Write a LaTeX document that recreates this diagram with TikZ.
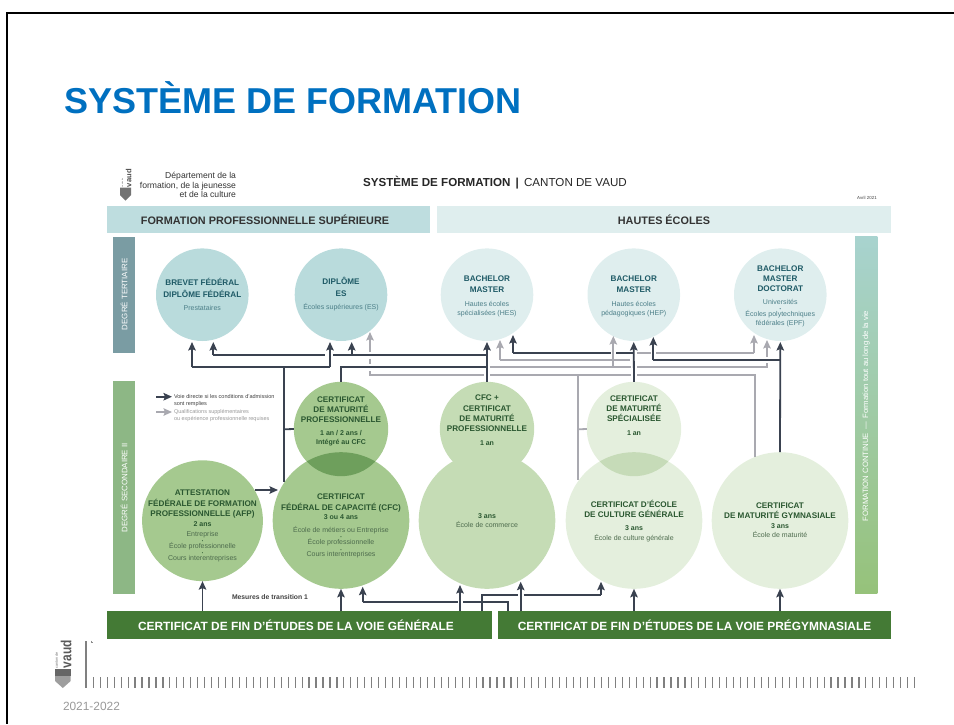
\documentclass[tikz,border=0pt]{standalone}
\usepackage{fontspec}
\setmainfont{Liberation Sans}
\usetikzlibrary{arrows.meta,calc}
\definecolor{cblue}{HTML}{0070C0}
\definecolor{tealA}{HTML}{B9DBDC}
\definecolor{tealB}{HTML}{DFEEEE}
\definecolor{hdA}{HTML}{BEDDDF}
\definecolor{grA}{HTML}{A5C98F}
\definecolor{grAo}{HTML}{6E9F5C}
\definecolor{grB}{HTML}{C5DCB5}
\definecolor{grC}{HTML}{E4EFDD}
\definecolor{grCo}{HTML}{C6DBB8}
\definecolor{barG}{HTML}{447A35}
\definecolor{sideT}{HTML}{7A9CA3}
\definecolor{sideS}{HTML}{8DB785}
\definecolor{fcT}{HTML}{A8D3CF}
\definecolor{fcB}{HTML}{96C27A}
\definecolor{dkl}{HTML}{3A4250}
\definecolor{gyl}{HTML}{A9A9B0}
\definecolor{tHd}{HTML}{1E5A66}
\definecolor{tSm}{HTML}{4C7F88}
\definecolor{sHd}{HTML}{2A5730}
\definecolor{sSm}{HTML}{4D6B4D}
\newcommand\hT[1]{{\fontsize{8.15}{9}\selectfont\bfseries\color{tHd}#1}}
\newcommand\sT[1]{{\fontsize{7}{9}\selectfont\color{tSm}#1}}
\newcommand\hS[1]{{\fontsize{8.15}{9}\selectfont\bfseries\color{sHd}#1}}
\newcommand\yS[1]{{\fontsize{7}{9}\selectfont\bfseries\color{sHd}#1}}
\newcommand\sS[1]{{\fontsize{7}{9}\selectfont\color{sSm}#1}}
\newcommand\dotT{{\fontsize{4}{9}\selectfont\color{tHd}•}}
\newcommand\dotS{{\fontsize{4}{9}\selectfont\color{sHd}•}}
\tikzset{
  disc/.style={circle,inner sep=0pt,outer sep=0pt},
  band/.style={rectangle,inner sep=0pt,outer sep=0pt},
  blk/.style={align=center,inner sep=0pt,outer sep=0pt,font=\fontsize{7}{9}\selectfont},
  dk/.style={draw=dkl,line width=1.8pt},
  gy/.style={draw=gyl,line width=1.8pt},
  dka/.style={dk,-{Stealth[length=8.5pt,width=7.5pt,inset=1.5pt]}},
  gya/.style={gy,-{Stealth[length=8.5pt,width=7.5pt,inset=1.5pt]}},
  lbl/.style={inner sep=0pt,outer sep=0pt}
}
\begin{document}
\begin{tikzpicture}[x=1pt,y=-1pt]
\useasboundingbox (0,0) rectangle (954,724);
% frame
\fill[black] (5.5,12) rectangle (954,14);
\fill[black] (5.5,12) rectangle (8,724);
\node[lbl,anchor=base west,text=cblue,font=\fontsize{36}{40}\selectfont\bfseries] (title) at (64,113) {SYSTÈME DE FORMATION};
% doc head
\node[lbl,anchor=east,align=right,font=\fontsize{8.6}{9.5}\selectfont,text=black!80] (dept) at (236,185) {Département de la\\formation, de la jeunesse\\et de la culture};
\node[lbl,font=\fontsize{11.6}{13}\selectfont,text=black!85] (doct) at (495,183) {{\bfseries SYSTÈME DE FORMATION \,|\,} CANTON DE VAUD};
\node[lbl,anchor=east,font=\fontsize{4.4}{5}\selectfont,text=black!75] (avril) at (876.7,198.3) {Avril 2021};
% bands
\node[band,fill=hdA,minimum width=323pt,minimum height=27.5pt,font=\fontsize{10.85}{12}\selectfont\bfseries,text=black!80] (hfp) at (268.5,219.7) {\hspace*{-7pt}FORMATION PROFESSIONNELLE SUPÉRIEURE};
\node[band,fill=tealB,minimum width=454pt,minimum height=27.5pt,font=\fontsize{10.85}{12}\selectfont\bfseries,text=black!80] (hhe) at (664,219.7) {HAUTES ÉCOLES};
\node[band,fill=sideT,minimum width=22pt,minimum height=116pt] (sdt) at (124,294.7) {};
\node[band,fill=sideS,minimum width=22pt,minimum height=213pt] (sds) at (124,487.5) {};
\node[band,shade,top color=fcT,bottom color=fcB,minimum width=22.3pt,minimum height=357.3pt] (sfc) at (866.2,415.3) {};
\node[lbl,rotate=90,text=white,font=\fontsize{7.9}{9}\selectfont] (tdt) at (124,294.3) {DEGRÉ TERTIAIRE};
\node[lbl,rotate=90,text=white,font=\fontsize{7.9}{9}\selectfont] (tds) at (124,487.7) {DEGRÉ SECONDAIRE II};
\node[lbl,rotate=90,text=white,font=\fontsize{7.7}{9}\selectfont] (tfc) at (866.2,416) {FORMATION CONTINUE \,—\, Formation tout au long de la vie};
\node[band,fill=barG,minimum width=385pt,minimum height=27.7pt,text=white,font=\fontsize{11.9}{13}\selectfont\bfseries] (bgen) at (299.5,624.9) {\hspace*{-7pt}CERTIFICAT DE FIN D’ÉTUDES DE LA VOIE GÉNÉRALE};
\node[band,fill=barG,minimum width=393pt,minimum height=27.7pt,text=white,font=\fontsize{11.9}{13}\selectfont\bfseries] (bpre) at (694.5,624.9) {CERTIFICAT DE FIN D’ÉTUDES DE LA VOIE PRÉGYMNASIALE};
% circles
\node[disc,fill=tealA,minimum size=92.6pt] (brevet) at (202.3,294.7) {};
\node[disc,fill=tealA,minimum size=92.6pt] (dipl) at (341,294.7) {};
\node[disc,fill=tealB,minimum size=92.6pt] (hes) at (487,294.7) {};
\node[disc,fill=tealB,minimum size=92.6pt] (hep) at (633.8,294.7) {};
\node[disc,fill=tealB,minimum size=92.6pt] (epf) at (780.3,294.7) {};
\node[disc,fill=grA,minimum size=120.8pt] (afp) at (202.5,520.7) {};
\node[disc,fill=grA,minimum size=136.6pt] (cfc) at (341,520.5) {};
\node[disc,fill=grA,minimum size=94.4pt] (cmp) at (341,429) {};
\begin{scope}\clip (341,429) circle[radius=47.2pt];\fill[grAo] (341,520.5) circle[radius=68.3pt];\end{scope}
\node[disc,fill=grB,minimum size=136.6pt] (com) at (487,520.5) {};
\node[disc,fill=grB,minimum size=94.4pt] (cpm) at (487,429) {};
\node[disc,fill=grC,minimum size=136.6pt] (ecg) at (634,520.5) {};
\node[disc,fill=grC,minimum size=94.4pt] (spe) at (634,429) {};
\begin{scope}\clip (634,429) circle[radius=47.2pt];\fill[grCo] (634,520.5) circle[radius=68.3pt];\end{scope}
\node[disc,fill=grC,minimum size=136.6pt] (gym) at (780,520.5) {};
% junction coordinates
\coordinate (tB1) at (192,342);\coordinate (jB1) at (192,367.3);
\coordinate (tD1) at (330,342);\coordinate (jD1) at (330,367.3);
\coordinate (j284) at (284,367.3);\coordinate (e284) at (284,482);\coordinate (m284) at (284,429.3);
\coordinate (tB2) at (213.3,342);\coordinate (jB2) at (213.3,355);
\coordinate (gL) at (325,355);\coordinate (gR) at (333,355);
\coordinate (tD2) at (351.7,342);\coordinate (jD2) at (351.7,355);
\coordinate (tH1) at (487,342);\coordinate (jH355) at (487,355);\coordinate (jH367) at (487,367.3);
\coordinate (jM) at (341,367.3);
\coordinate (tH3) at (513,335);\coordinate (jH3) at (513,352.8);
\coordinate (e633a) at (633.7,352.8);\coordinate (g611) at (610.5,352.8);\coordinate (g616) at (616,352.8);
\coordinate (tP) at (633.7,342);
\coordinate (tP3) at (653.3,337);\coordinate (jP3) at (653.3,360);
\coordinate (tU3) at (780.3,342);\coordinate (jU3) at (780.3,360);
% gray
\coordinate (tD3) at (370,332);\coordinate (jD3) at (370,375);
\coordinate (a1) at (370,371);\coordinate (a2) at (370,364);\coordinate (a3) at (370,358.5);\coordinate (a4) at (370,351.5);
\coordinate (b1) at (484,375);\coordinate (b2) at (490,375);\coordinate (b3) at (631,375);\coordinate (b4) at (637,375);
\coordinate (jU5) at (755,375);\coordinate (e755) at (755,457);
\coordinate (j578) at (578,375);\coordinate (e578) at (578,480);\coordinate (m578) at (578,429.3);
\coordinate (c1) at (489.5,367.3);\coordinate (c2) at (631,367.3);\coordinate (c3) at (637,367.3);\coordinate (jU2) at (767,367.3);
\coordinate (tU2) at (767,340);\coordinate (d1) at (767,363);\coordinate (d2) at (767,357);
\coordinate (tH2) at (500,340);\coordinate (jH2) at (500,360);\coordinate (e630) at (630,360);
\coordinate (tP2) at (613.3,336);\coordinate (jP2) at (613.3,367.3);
\coordinate (f1) at (637,352.8);\coordinate (f2) at (650.5,352.8);\coordinate (f3) at (656,352.8);\coordinate (jU1) at (754,352.8);\coordinate (tU1) at (754,335);
% gray connectors
\draw[gya] (a4) -- (tD3);
\draw[gy] (a3) -- (a2);
\draw[gy] (a1) -- (jD3) -- (b1);
\draw[gy] (b2) -- (b3);
\draw[gy] (b4) -- (jU5) -- (e755);
\draw[gy] (j578) -- (e578);
\draw[gy] (m578) -- (spe.west);
\draw[gy] (c1) -- (c2);
\draw[gy] (c3) -- (jU2) -- (d1);
\draw[gya] (d2) -- (tU2);
\draw[gya] (jH2) -- (tH2);
\draw[gy] (jH2) -- (e630);
\draw[gya] (jP2) -- (tP2);
\draw[gy] (f1) -- (f2);
\draw[gy] (f3) -- (jU1);
\draw[gya] (jU1) -- (tU1);
% dark connectors
\draw[dka] (jB1) -- (tB1);
\draw[dk] (jB1) -- (jD1);
\draw[dka] (jD1) -- (tD1);
\draw[dk] (j284) -- (e284);
\draw[dk] (m284) -- (cmp.west);
\draw[dka] (jB2) -- (tB2);
\draw[dk] (jB2) -- (gL);
\draw[dk] (gR) -- (jH355);
\draw[dka] (jD2) -- (tD2);
\draw[dka] (cpm.north) -- (tH1);
\draw[dk] (cmp.north) -- (jM) -- (jH367);
\draw[dka] (jH3) -- (tH3);
\draw[dk] (jH3) -- (g611);
\draw[dk] (g616) -- (e633a);
\draw[dka] (spe.north) -- (tP);
\draw[dka] (jP3) -- (tP3);
\draw[dk] (jP3) -- (jU3);
\draw[dka] (gym.north) -- (tU3);
\coordinate (afT) at (278,490);
\draw[dka] (afp.30.8 |- afT) -- (afT);
% bottom connectors
\coordinate (x362) at (362.7,586.7);\coordinate (j362) at (362.7,602.3);
\coordinate (k1) at (457.5,602.3);\coordinate (k2) at (463,602.3);\coordinate (k3) at (508,602.3);\coordinate (k4) at (508,611);
\coordinate (n1) at (460,611);\coordinate (n2) at (460,585);
\coordinate (p1) at (481.7,611);\coordinate (p2) at (481.7,595);\coordinate (p3) at (517.5,595);\coordinate (p4) at (523.5,595);\coordinate (p5) at (601,595);\coordinate (p6) at (601,581.7);
\coordinate (q1) at (520.7,611);\coordinate (q2) at (520.7,581.7);
\draw[dka] (afp.south |- bgen.north) -- (afp.south);
\draw[dka] (cfc.south |- bgen.north) -- (cfc.south);
\draw[dka] (ecg.south |- bpre.north) -- (ecg.south);
\draw[dka] (gym.south |- bpre.north) -- (gym.south);
\draw[dka] (j362) -- (x362);
\draw[dk] (j362) -- (k1);
\draw[dk] (k2) -- (k3) -- (k4);
\draw[dka] (n1) -- (n2);
\draw[dk] (p1) -- (p2) -- (p3);
\draw[dk] (p4) -- (p5);
\draw[dka] (p5) -- (p6);
\draw[dka] (q1) -- (q2);
% legend
\coordinate (l1a) at (156,396.7);\coordinate (l1b) at (172,396.7);
\coordinate (l2a) at (156,412);\coordinate (l2b) at (172,412);
\draw[dka] (l1a) -- (l1b);
\draw[gya] (l2a) -- (l2b);
\node[lbl,anchor=west,align=left,font=\fontsize{5.55}{6.8}\selectfont,text=black!75] (leg1) at (174,400.2) {Voie directe si les conditions d’admission\\sont remplies};
\node[lbl,anchor=west,align=left,font=\fontsize{5.5}{6.8}\selectfont,text=black!40] (leg2) at (174,415.4) {Qualifications supplémentaires\\ou expérience professionnelle requises};
\node[lbl,font=\fontsize{6.8}{8}\selectfont\bfseries,text=black!75] (mes) at (270,597.3) {Mesures de transition 1};
% circle texts
\node[blk] (x1) at (202.3,294.4) {\hT{BREVET FÉDÉRAL}\\[3pt]\hT{DIPLÔME FÉDÉRAL}\\[3.7pt]\sT{Prestataires}};
\node[blk] (x2) at (341,294.4) {\hT{DIPLÔME}\\[3pt]\hT{ES}\\[3.7pt]\sT{Écoles supérieures (ES)}};
\node[blk] (x3) at (487,296.2) {\hT{BACHELOR}\\[2.6pt]\hT{MASTER}\\[4.4pt]\sT{Hautes écoles}\\\sT{spécialisées (HES)}};
\node[blk] (x4) at (633.8,296.2) {\hT{BACHELOR}\\[2.6pt]\hT{MASTER}\\[4.4pt]\sT{Hautes écoles}\\\sT{pédagogiques (HEP)}};
\node[blk] (x5) at (780.3,296.2) {\hT{BACHELOR}\\[1.3pt]\hT{MASTER}\\[1.3pt]\hT{DOCTORAT}\\[3.7pt]\sT{Universités}\\[-3.3pt]\dotT\\[-3pt]\sT{Écoles polytechniques}\\\sT{fédérales (EPF)}};
\node[blk] (x6) at (341,421.5) {\hS{CERTIFICAT}\\[1.3pt]\hS{DE MATURITÉ}\\[1pt]\hS{PROFESSIONNELLE}\\[4.4pt]\yS{1 an / 2 ans /}\\\yS{Intégré au CFC}};
\node[blk] (x7) at (487,420) {\hS{CFC +}\\[1.7pt]\hS{CERTIFICAT}\\[1.3pt]\hS{DE MATURITÉ}\\[1pt]\hS{PROFESSIONNELLE}\\[4.4pt]\yS{1 an}};
\node[blk] (x8) at (634,415.5) {\hS{CERTIFICAT}\\[1pt]\hS{DE MATURITÉ}\\[1.7pt]\hS{SPÉCIALISÉE}\\[4.7pt]\yS{1 an}};
\node[blk] (x9) at (202.5,526) {\hS{ATTESTATION}\\[1.4pt]\hS{FÉDÉRALE DE FORMATION}\\[1.3pt]\hS{PROFESSIONNELLE (AFP)}\\[.7pt]\yS{2 ans}\\[1.6pt]\sS{Entreprise}\\[-3pt]\dotS\\[-3pt]\sS{École professionnelle}\\[-3pt]\dotS\\[-3.3pt]\sS{Cours interentreprises}};
\node[blk] (x10) at (341,526) {\hS{CERTIFICAT}\\[1.3pt]\hS{FÉDÉRAL DE CAPACITÉ (CFC)}\\[.7pt]\yS{3 ou 4 ans}\\[3.3pt]\sS{École de métiers ou Entreprise}\\[-2.3pt]\dotS\\[-3pt]\sS{École professionnelle}\\[-2.7pt]\dotS\\[-3.7pt]\sS{Cours interentreprises}};
\node[blk] (x11) at (487,520.7) {\yS{3 ans}\\[.3pt]\sS{École de commerce}};
\node[blk] (x12) at (634,520.8) {\hS{CERTIFICAT D’ÉCOLE}\\[1pt]\hS{DE CULTURE GÉNÉRALE}\\[4.4pt]\yS{3 ans}\\[.6pt]\sS{École de culture générale}};
\node[blk] (x13) at (780,520.5) {\hS{CERTIFICAT}\\[1pt]\hS{DE MATURITÉ GYMNASIALE}\\[.7pt]\yS{3 ans}\\[.3pt]\sS{École de maturité}};
% logos
\fill[black!55] (120,187.5) -- (131,187.5) -- (131,195) -- (125.5,200.5) -- (120,195) -- cycle;
\node[lbl,rotate=90,anchor=south west,font=\fontsize{7.6}{8}\selectfont\bfseries,text=black!70] (v1) at (131.5,187) {vaud};
\node[lbl,rotate=90,anchor=west,font=\fontsize{2}{3}\selectfont,text=black!60] (c1t) at (122.5,187) {canton de};
\fill[black!60] (55,668.5) -- (70.7,668.5) -- (70.7,676) -- (55,676) -- cycle;
\fill[black!38] (55,676) -- (70.7,676) -- (70.7,681) -- (62.8,688) -- (55,681) -- cycle;
\node[lbl,rotate=90,anchor=south west,font=\fontsize{14.6}{15}\selectfont\bfseries,text=black!65] (v2) at (71.5,668) {\scalebox{.82}[1]{vaud}};
\node[lbl,rotate=90,anchor=west,font=\fontsize{3.6}{4}\selectfont,text=black!60] (c2t) at (56.5,668) {canton de};
% footer
\draw[black!50,line width=1.3pt] (86,641) -- (86,688);
\draw[black!45,line width=.5pt] (91.3,640.5) -- (91.3,642.5) -- (92.5,642.5);
\foreach \i in {0,...,118} \draw[black!50,line width=1.2pt] ({93.3+6.96*\i},677) -- ({93.3+6.96*\i},688);
\node[lbl,anchor=base west,font=\fontsize{11.9}{13}\selectfont,text=black!40] (yr) at (63,710) {2021-2022};
\end{tikzpicture}
\end{document}
